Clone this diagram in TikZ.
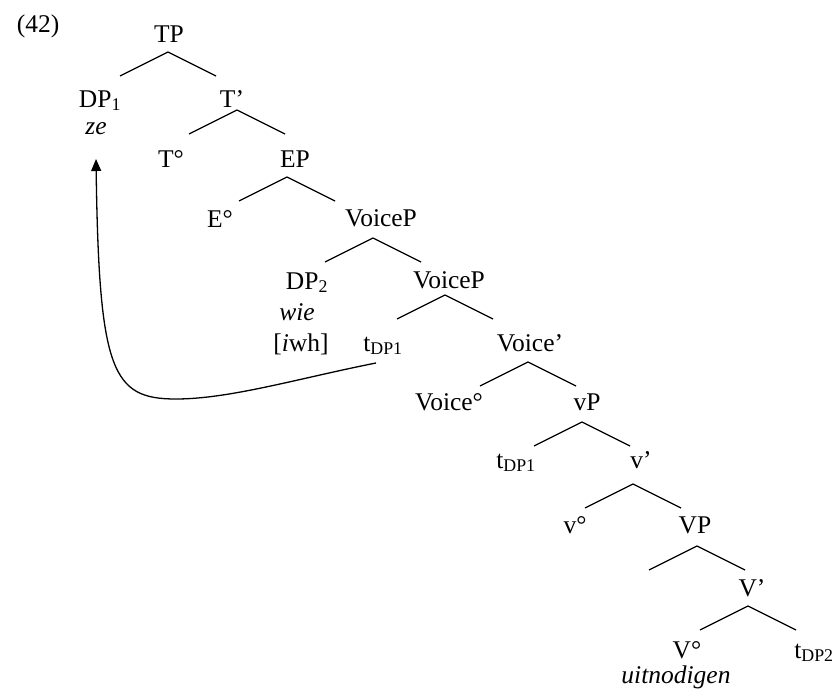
\documentclass[tikz,border=0pt]{standalone}
\usepackage{fontspec}
\setmainfont{Liberation Serif}
\usetikzlibrary{arrows.meta}
\tikzset{
  lab/.style={anchor=base, inner sep=0pt, font=\fontsize{25.5}{30}\selectfont},
  br/.style={line width=1.3pt},
  mvarrow/.style={line width=1.3pt, -{Triangle[length=12pt,width=10pt]}}
}
\begin{document}
\begin{tikzpicture}[x=1pt,y=-1pt]
\useasboundingbox (0,0) rectangle (834,693);
% labels
\node[lab] (n42) at (38,33) {(42)};
\node[lab] (TP) at (169,42) {TP};
\node[lab] (DPa) at (100,107) {DP\textsubscript{1}};
\node[lab] (ze) at (96,134) {\textit{ze}};
\node[lab] (Tbar) at (232,107) {T’};
\node[lab] (T0) at (171,167) {T°};
\node[lab] (EP) at (295,167) {EP};
\node[lab] (E0) at (220,227) {E°};
\node[lab] (VoPa) at (381,226) {VoiceP};
\node[lab] (DPb) at (307,289) {DP\textsubscript{2}};
\node[lab] (wie) at (297,320) {\textit{wie}};
\node[lab] (iwh) at (301,351) {[\textit{i}wh]};
\node[lab] (VoPb) at (449,288) {VoiceP};
\node[lab] (ta) at (383,351) {t\textsubscript{DP1}};
\node[lab] (Vobar) at (530,351) {Voice’};
\node[lab] (Vo0) at (449,410) {Voice°};
\node[lab] (vP) at (587,410) {vP};
\node[lab] (tb) at (516,468) {t\textsubscript{DP1}};
\node[lab] (vbar) at (641,468) {v’};
\node[lab] (v0) at (575,533) {v°};
\node[lab] (VP) at (695,533) {VP};
\node[lab] (Vbar) at (752,596) {V’};
\node[lab] (V0) at (687,658) {V°};
\node[lab] (tc) at (814,658) {t\textsubscript{DP2}};
\node[lab] (uit) at (676,683) {\textit{uitnodigen}};
% branch apexes
\coordinate (aTP) at (168,52);
\coordinate (aTbar) at (237,110);
\coordinate (aEP) at (287,177);
\coordinate (aVoPa) at (373,238);
\coordinate (aVoPb) at (445,295);
\coordinate (aVobar) at (528,362);
\coordinate (avP) at (582,422);
\coordinate (avbar) at (633,484);
\coordinate (aVP) at (697,546);
\coordinate (aVbar) at (748,606);
\foreach \a in {aTP,aTbar,aEP,aVoPa,aVoPb,aVobar,avP,avbar,aVP,aVbar}{
  \draw[br] (\a) -- ++(-48,24);
  \draw[br] (\a) -- ++(48,24);
}
% movement arrow
\coordinate (arrS) at (376,363);
\coordinate (arrM) at (176,399);
\coordinate (arrE) at (96,159);
\draw[mvarrow] (arrS) .. controls (300,378) and (230,399) .. (arrM)
  .. controls (112,399) and (99,372) .. (arrE);
\end{tikzpicture}
\end{document}
